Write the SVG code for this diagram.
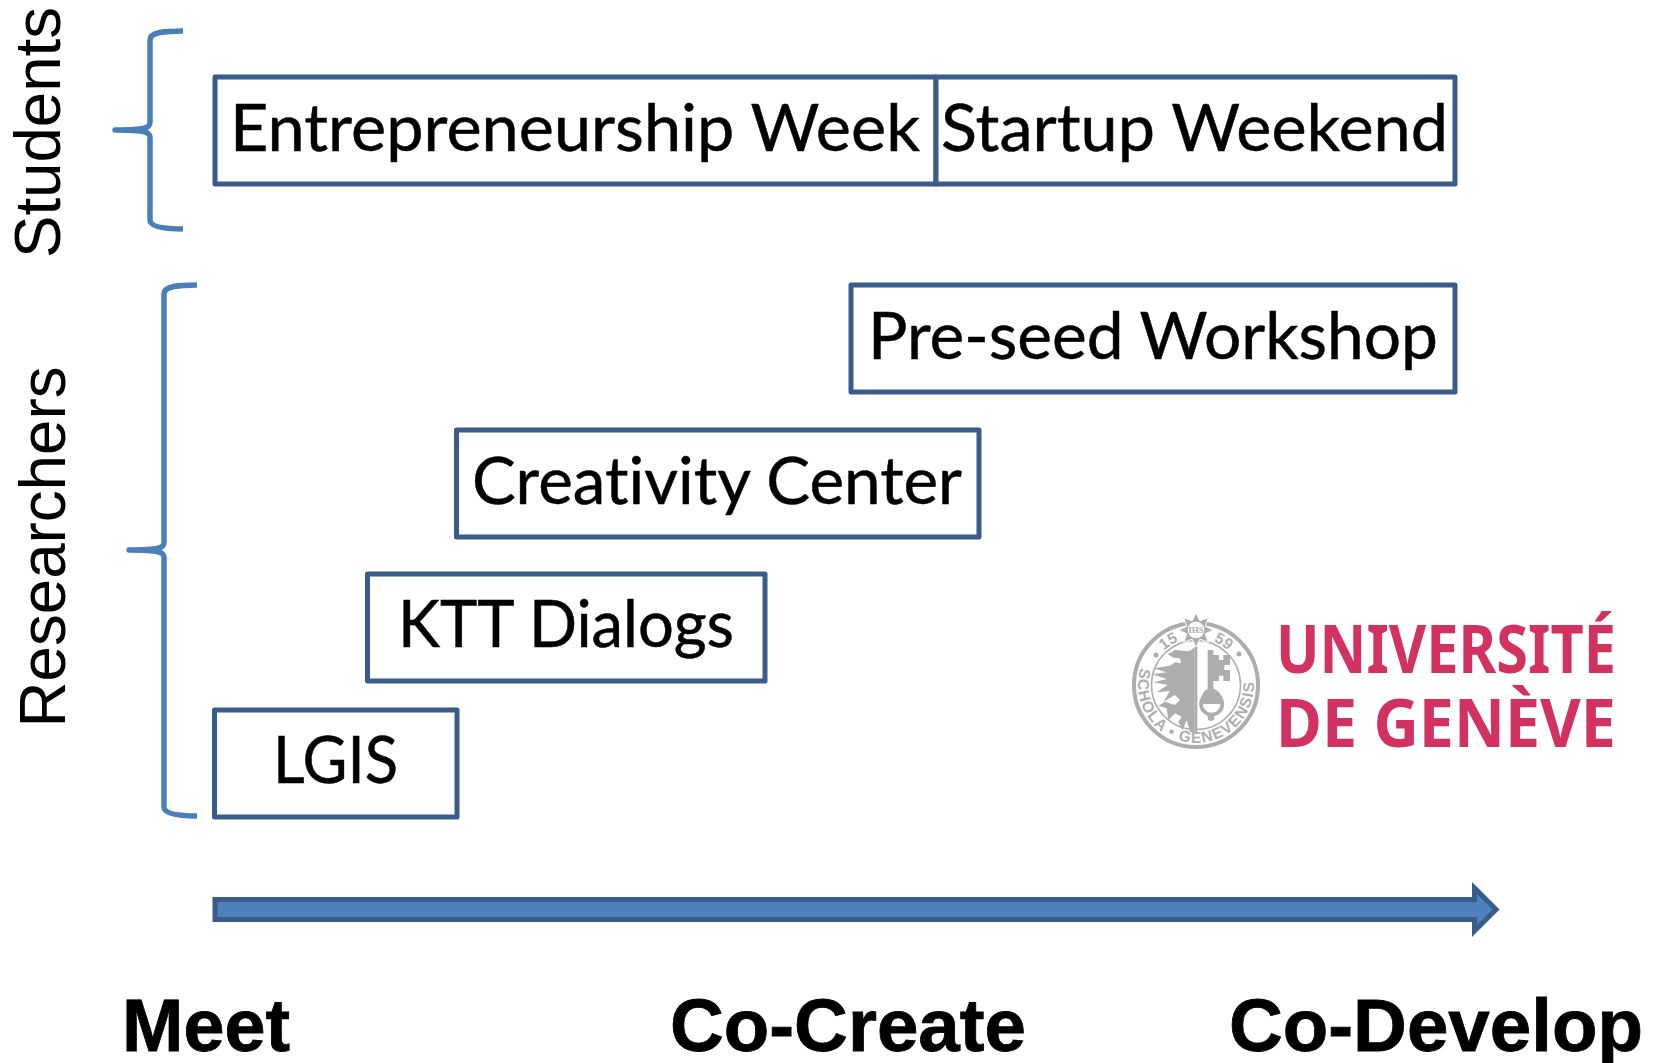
<svg xmlns="http://www.w3.org/2000/svg" width="1655" height="1063" viewBox="0 0 1655 1063">
<style>
.box{fill:#fff;stroke:#385d8a;stroke-width:5;stroke-linejoin:round}
.t{font-family:Lato,"Noto Sans",sans-serif;font-size:65px;fill:#000;stroke:#000;stroke-width:.5;font-variant-ligatures:none}
.side{font-family:"Liberation Sans",Arial,sans-serif;fill:#000;font-size:65px}
.axis{font-family:"Liberation Sans",Arial,sans-serif;font-size:74.500px;font-weight:bold;fill:#000;stroke:#000;stroke-width:.8}
.brace{fill:none;stroke:#4a7ebb;stroke-width:5.500;stroke-linejoin:round}
.uni{font-family:"Noto Sans",sans-serif;font-weight:700;font-size:66px;fill:#d2325f}
.seal{font-family:"Liberation Sans",sans-serif;font-size:15.500px;font-weight:bold;fill:#adadad}
.g{fill:#adadad;stroke:none}
</style>
<defs>
<path id="arcB" d="M1141.500,665 A58,58 0 1 0 1250.500,665"/>
<path id="arcT" d="M1149,685 A47,47 0 0 1 1243,685"/>
</defs>
<rect width="1655" height="1063" fill="#fff"/>
<g id="connectors">
<path class="brace" d="M183,31 C165,31 150,32 150,40 V122 C150,128 146,130 115,130 C146,130 150,132 150,138 V220 C150,227 165,229 183,229"/>
<path class="brace" d="M197,285 C179,285 164,286 164,294 V542 C164,548 160,550 129,550 C160,550 164,552 164,558 V807 C164,814 179,816 197,816"/>
<path d="M215,899.500 H1474.500 V888 L1496,909.500 L1474.500,931 V919.500 H215 Z" fill="#4f81bd" stroke="#385d8a" stroke-width="5"/>
</g>
<g id="node-entrepreneurship"><rect class="box" x="215" y="77" width="721" height="107"/><text class="t" x="230" y="151" textLength="690" lengthAdjust="spacingAndGlyphs">Entrepreneurship Week</text></g>
<g id="node-startup"><rect class="box" x="936" y="77" width="519" height="107"/><text class="t" x="941" y="151" textLength="507" lengthAdjust="spacingAndGlyphs">Startup Weekend</text></g>
<g id="node-preseed"><rect class="box" x="851" y="285" width="604" height="107"/><text class="t" x="868" y="359" textLength="570" lengthAdjust="spacingAndGlyphs">Pre-seed Workshop</text></g>
<g id="node-creativity"><rect class="box" x="456.500" y="430" width="522.500" height="107"/><text class="t" x="472" y="504" textLength="490" lengthAdjust="spacingAndGlyphs">Creativity Center</text></g>
<g id="node-ktt"><rect class="box" x="367.500" y="574" width="397.500" height="107"/><text class="t" x="398" y="647" textLength="336" lengthAdjust="spacingAndGlyphs">KTT Dialogs</text></g>
<g id="node-lgis"><rect class="box" x="214.500" y="710" width="242.500" height="107"/><text class="t" x="273" y="783" textLength="125" lengthAdjust="spacingAndGlyphs">LGIS</text></g>
<g id="label-students"><text class="side" transform="translate(60,258) rotate(-90)" textLength="251" lengthAdjust="spacingAndGlyphs">Students</text></g>
<g id="label-researchers"><text class="side" transform="translate(65,727.500) rotate(-90)" textLength="361" lengthAdjust="spacingAndGlyphs">Researchers</text></g>
<g id="label-meet"><text class="axis" x="122" y="1051" textLength="168" lengthAdjust="spacingAndGlyphs">Meet</text></g>
<g id="label-cocreate"><text class="axis" x="670" y="1051">Co-Create</text></g>
<g id="label-codevelop"><text class="axis" x="1229" y="1051">Co-Develop</text></g>
<g id="logo">
<circle cx="1196" cy="685" r="62" fill="none" stroke="#adadad" stroke-width="4"/>
<circle cx="1196" cy="685" r="44.500" fill="none" stroke="#adadad" stroke-width="1.500"/>
<g transform="translate(1125,605) scale(.33333)">
<polygon points="213,23 224.500,47.300 250,38 240.700,63.500 265,75 240.700,86.500 250,112 224.500,102.700 213,127 201.500,102.700 176,112 185.300,86.500 161,75 185.300,63.500 176,38 201.500,47.300" fill="#adadad" stroke="#fff" stroke-width="3"/>
<circle cx="213" cy="75" r="27" fill="#fff" stroke="#adadad" stroke-width="4"/>
<rect class="g" x="209" y="125" width="8" height="262"/>
<path class="g" d="M209,125 C200,135 195,140 180,138 L150,135 L128,148 L145,158 L165,160 L168,175 L150,172 L135,182 L85,190 L125,202 L82,208 L125,222 L85,232 L128,240 L95,262 L135,258 L115,290 L150,270 L165,285 L150,300 L120,290 L100,302 L125,310 L130,345 L150,325 L170,335 L160,350 L172,375 L185,345 L195,380 L209,385 Z"/>
<path class="g" d="M248,135 H265 V150 H282 V165 H295 V150 H315 V180 H298 V195 H315 V228 H295 V212 H282 V228 H265 V255 H248 Z"/>
<path class="g" d="M226,297 C226,270 240,250 257,250 C275,250 295,270 295,297 Z"/>
<ellipse cx="260" cy="297" rx="32" ry="32" fill="none" stroke="#adadad" stroke-width="11"/>
<circle class="g" cx="258" cy="338" r="10"/>
</g>
<text x="1196" y="633" text-anchor="middle" style="font-family:'Liberation Serif',serif;font-size:9px;font-weight:bold;fill:#adadad">IHS</text>
<text class="seal" text-anchor="middle"><textPath href="#arcT" startOffset="32%">15</textPath></text>
<text class="seal" text-anchor="middle"><textPath href="#arcT" startOffset="68%">59</textPath></text>
<text class="seal" letter-spacing="1.200"><textPath href="#arcB" startOffset="3">SCHOLA • GENEVENSIS</textPath></text>
<circle class="g" cx="1156" cy="655" r="2.500"/><circle class="g" cx="1239" cy="654" r="2.500"/>
<text class="uni" x="1276" y="673" textLength="340" lengthAdjust="spacingAndGlyphs">UNIVERSITÉ</text>
<text class="uni" x="1276" y="747" textLength="340" lengthAdjust="spacingAndGlyphs">DE GENÈVE</text>
</g>
</svg>
